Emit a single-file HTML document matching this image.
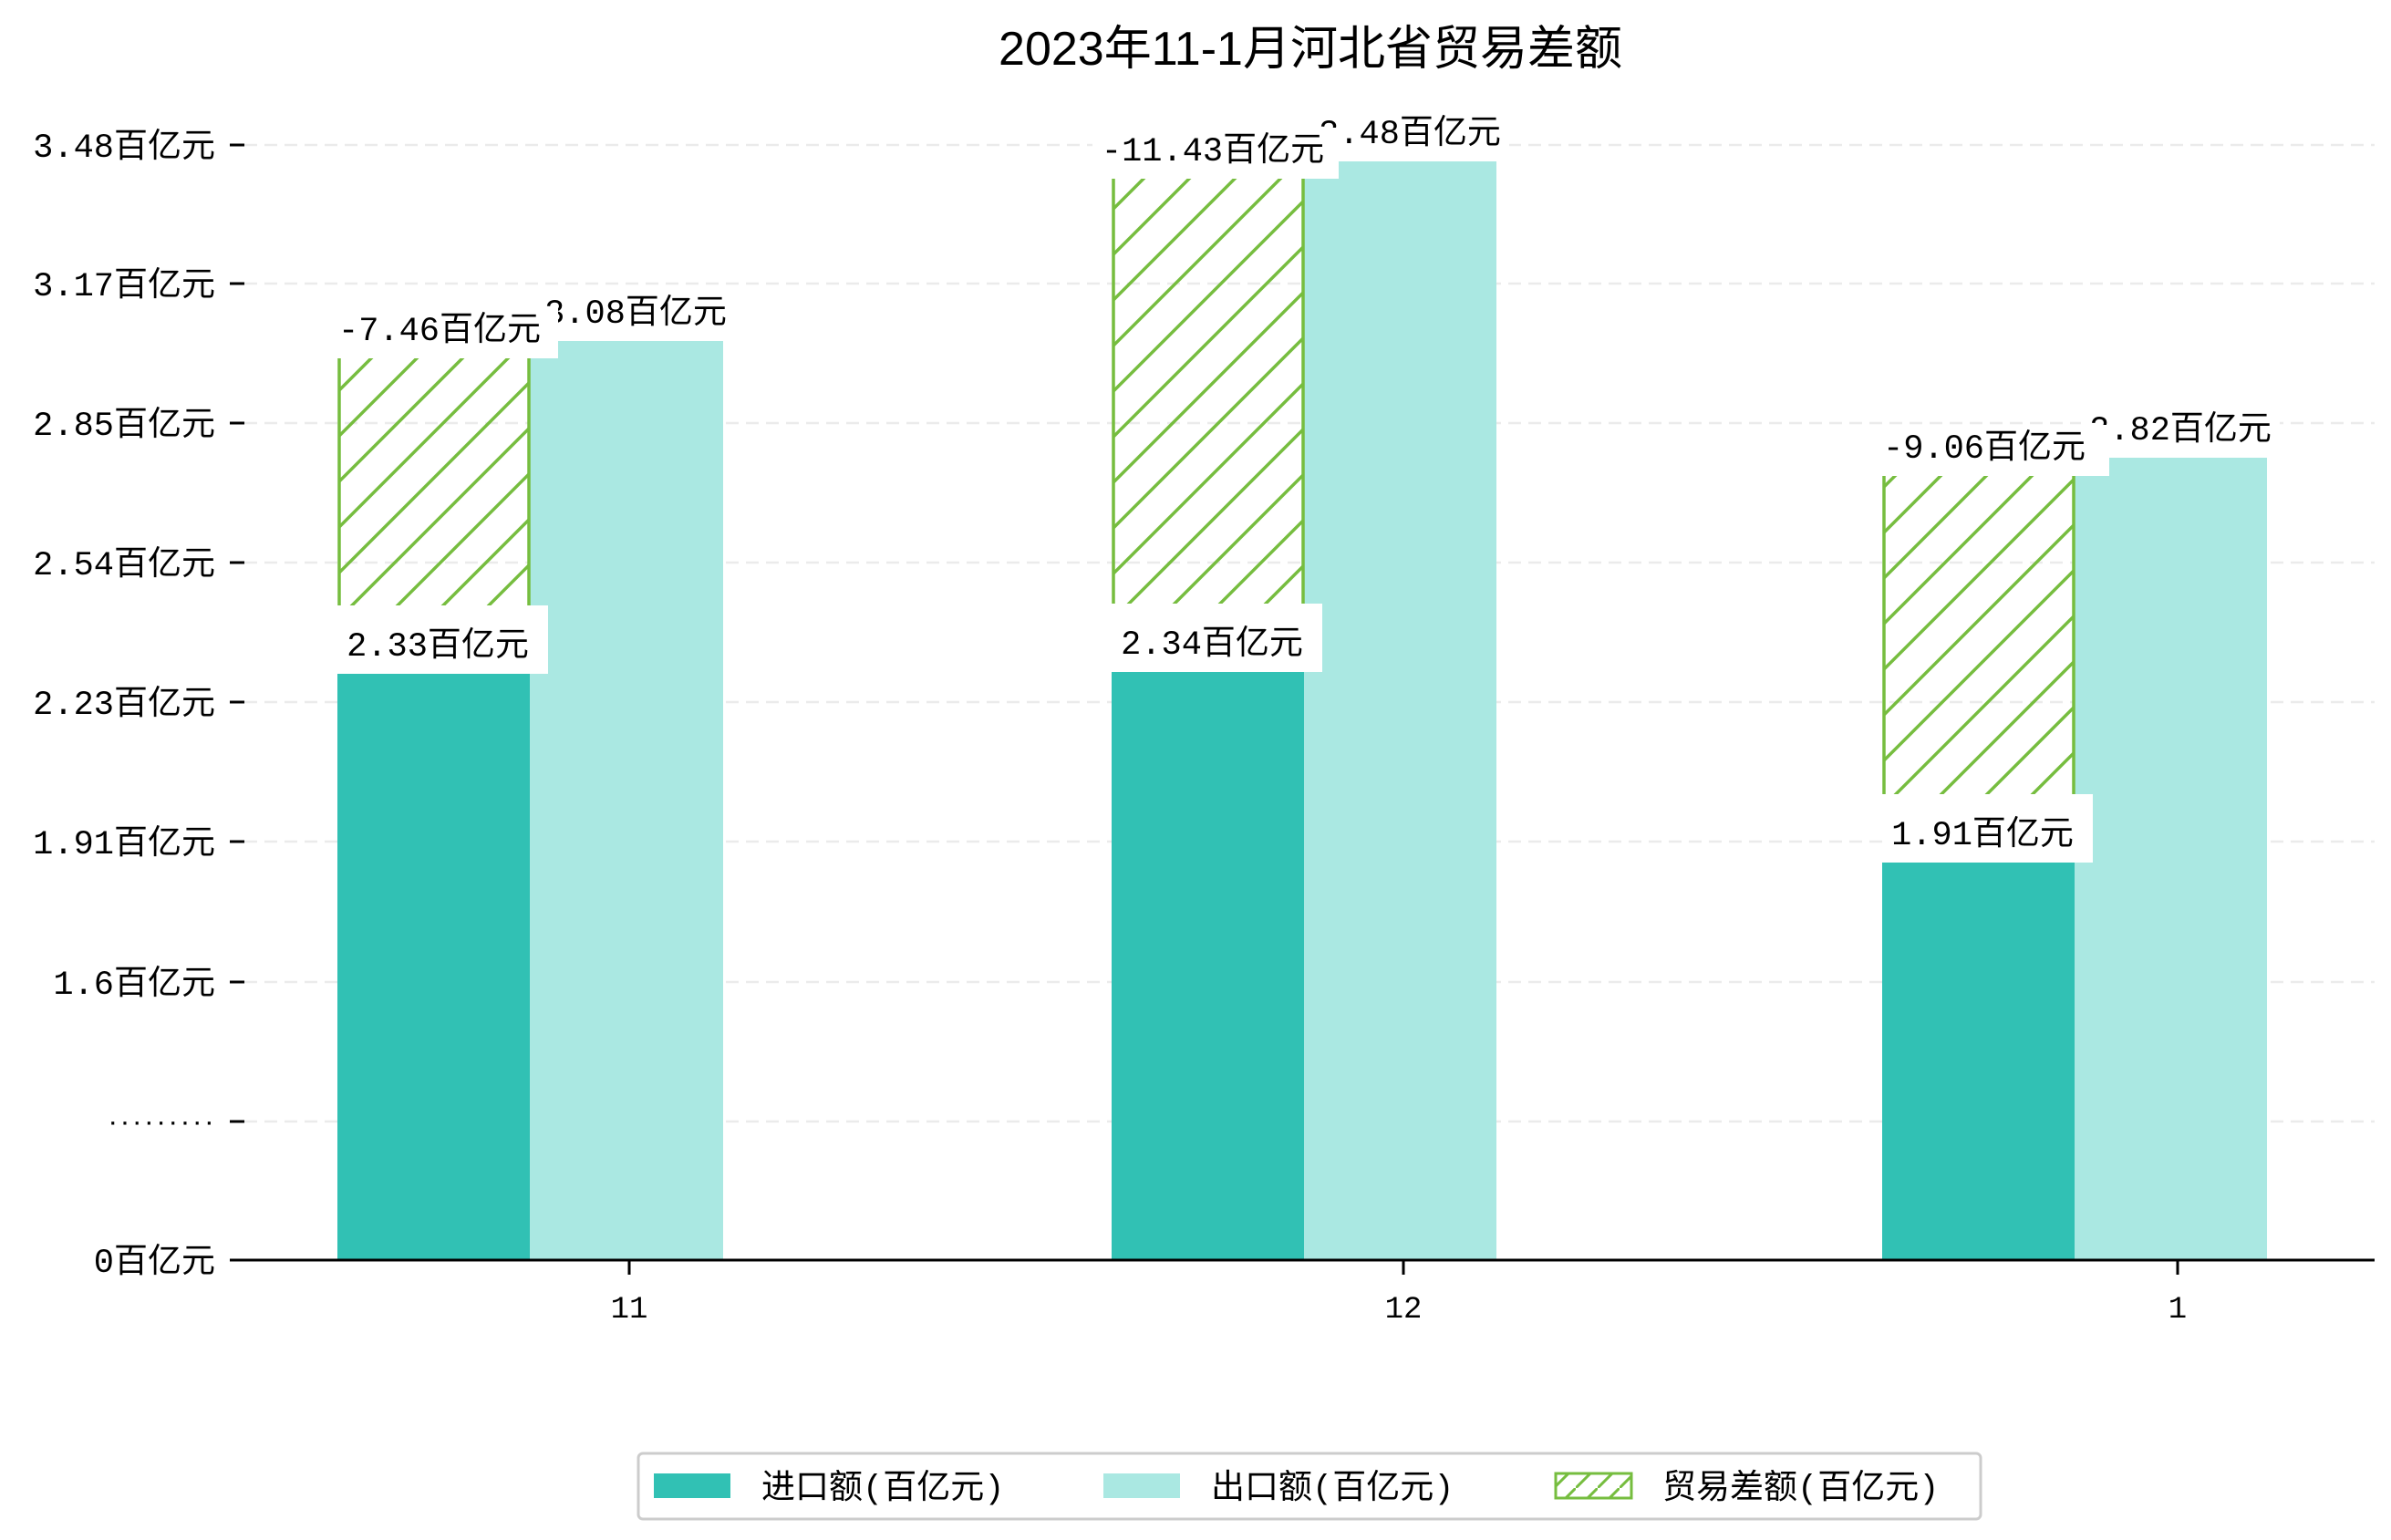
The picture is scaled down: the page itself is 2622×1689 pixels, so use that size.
<!DOCTYPE html>
<html><head><meta charset="utf-8"><style>
html,body{margin:0;padding:0;background:#fff;}
svg{display:block;}
text{font-family:"Liberation Mono","Noto Sans CJK SC",monospace;fill:#000;}
</style></head><body>
<svg width="2622" height="1689" viewBox="0 0 2622 1689" xmlns="http://www.w3.org/2000/svg">
<defs>
<pattern id="h" patternUnits="userSpaceOnUse" width="50" height="50">
<path d="M-5,55 L55,-5 M-30,30 L30,-30 M20,80 L80,20" stroke="#76bd3f" stroke-width="3.5"/>
</pattern>
<pattern id="hl" patternUnits="userSpaceOnUse" width="24" height="24">
<path d="M-4,28 L28,-4" stroke="#76bd3f" stroke-width="3"/>
</pattern>
</defs>
<text x="1437" y="71" text-anchor="middle" font-size="52" style="font-family:'Liberation Sans','Noto Sans CJK SC',sans-serif">2023年11-1月河北省贸易差额</text>

<!-- grid -->
<g stroke="#ebebeb" stroke-width="2.5" stroke-dasharray="14,8">
<line x1="268" x2="2604" y1="159" y2="159"/>
<line x1="268" x2="2604" y1="311" y2="311"/>
<line x1="268" x2="2604" y1="464" y2="464"/>
<line x1="268" x2="2604" y1="617" y2="617"/>
<line x1="268" x2="2604" y1="770" y2="770"/>
<line x1="268" x2="2604" y1="923" y2="923"/>
<line x1="268" x2="2604" y1="1077" y2="1077"/>
<line x1="268" x2="2604" y1="1230" y2="1230"/>
</g>
<!-- y ticks -->
<g stroke="#000" stroke-width="3">
<line x1="252" x2="268" y1="159" y2="159"/>
<line x1="252" x2="268" y1="311" y2="311"/>
<line x1="252" x2="268" y1="464" y2="464"/>
<line x1="252" x2="268" y1="617" y2="617"/>
<line x1="252" x2="268" y1="770" y2="770"/>
<line x1="252" x2="268" y1="923" y2="923"/>
<line x1="252" x2="268" y1="1077" y2="1077"/>
<line x1="252" x2="268" y1="1230" y2="1230"/>
</g>
<g font-size="37" text-anchor="end">
<text x="236" y="172">3.48百亿元</text>
<text x="236" y="324">3.17百亿元</text>
<text x="236" y="477">2.85百亿元</text>
<text x="236" y="630">2.54百亿元</text>
<text x="236" y="783">2.23百亿元</text>
<text x="236" y="936">1.91百亿元</text>
<text x="236" y="1090">1.6百亿元</text>
<text x="236" y="1395">0百亿元</text>
</g>
<text x="236" y="1238" font-size="22" text-anchor="end" font-weight="bold">·········</text>

<!-- bars -->
<rect x="370" y="739" width="211" height="643" fill="#31c1b4"/>
<rect x="581" y="374" width="212" height="1008" fill="#aae8e2"/>
<rect x="1219" y="737" width="211" height="645" fill="#31c1b4"/>
<rect x="1430" y="177" width="211" height="1205" fill="#aae8e2"/>
<rect x="2064" y="946" width="211" height="436" fill="#31c1b4"/>
<rect x="2275" y="502" width="211" height="880" fill="#aae8e2"/>

<!-- hatch -->
<rect x="372" y="393" width="208" height="346" fill="url(#h)"/>
<line x1="372" x2="372" y1="393" y2="739" stroke="#76bd3f" stroke-width="3.5"/>
<line x1="580" x2="580" y1="393" y2="739" stroke="#76bd3f" stroke-width="3.5"/>
<rect x="1221" y="196" width="208" height="541" fill="url(#h)"/>
<line x1="1221" x2="1221" y1="196" y2="737" stroke="#76bd3f" stroke-width="3.5"/>
<line x1="1429" x2="1429" y1="196" y2="737" stroke="#76bd3f" stroke-width="3.5"/>
<rect x="2066" y="522" width="208" height="424" fill="url(#h)"/>
<line x1="2066" x2="2066" y1="522" y2="946" stroke="#76bd3f" stroke-width="3.5"/>
<line x1="2274" x2="2274" y1="522" y2="946" stroke="#76bd3f" stroke-width="3.5"/>

<g font-size="37" text-anchor="middle">
<!-- export labels -->
<rect x="588" y="318" width="218" height="56" fill="#fff"/>
<text x="697" y="354">3.08百亿元</text>
<rect x="1437" y="121" width="218" height="56" fill="#fff"/>
<text x="1546" y="157">3.48百亿元</text>
<rect x="2282" y="446" width="218" height="56" fill="#fff"/>
<text x="2391" y="482">2.82百亿元</text>
<!-- diff labels -->
<rect x="360" y="337" width="252" height="56" fill="#fff"/>
<text x="482" y="373">-7.46百亿元</text>
<rect x="1198" y="140" width="270" height="56" fill="#fff"/>
<text x="1330" y="176">-11.43百亿元</text>
<rect x="2055" y="466" width="258" height="56" fill="#fff"/>
<text x="2176" y="502">-9.06百亿元</text>
<!-- import labels -->
<rect x="370" y="664" width="231" height="75" fill="#fff"/>
<text x="480" y="719">2.33百亿元</text>
<rect x="1219" y="662" width="231" height="75" fill="#fff"/>
<text x="1329" y="717">2.34百亿元</text>
<rect x="2064" y="871" width="231" height="75" fill="#fff"/>
<text x="2174" y="926">1.91百亿元</text>
</g>

<!-- x axis -->
<line x1="252" x2="2604" y1="1382" y2="1382" stroke="#000" stroke-width="3"/>
<g stroke="#000" stroke-width="3">
<line x1="690" x2="690" y1="1382" y2="1398"/>
<line x1="1539" x2="1539" y1="1382" y2="1398"/>
<line x1="2388" x2="2388" y1="1382" y2="1398"/>
</g>
<g font-size="34" text-anchor="middle">
<text x="690" y="1445">11</text>
<text x="1539" y="1445">12</text>
<text x="2388" y="1445">1</text>
</g>

<!-- legend -->
<rect x="700" y="1594" width="1472" height="72" rx="5" fill="#fff" stroke="#cccccc" stroke-width="3"/>
<rect x="717" y="1616" width="84" height="27" fill="#31c1b4"/>
<rect x="1210" y="1616" width="84" height="27" fill="#aae8e2"/>
<rect x="1706" y="1616" width="83" height="27" fill="url(#hl)" stroke="#76bd3f" stroke-width="3"/>
<g font-size="37">
<text x="835" y="1643">进口额(百亿元)</text>
<text x="1328" y="1643">出口额(百亿元)</text>
<text x="1823" y="1643">贸易差额(百亿元)</text>
</g>
</svg>
</body></html>
